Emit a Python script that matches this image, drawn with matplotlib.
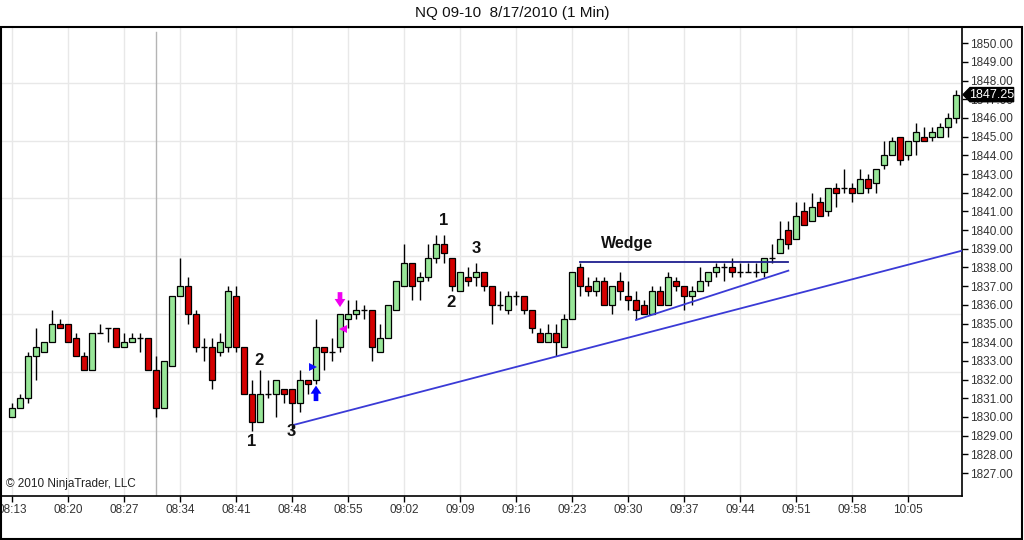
import matplotlib
matplotlib.use("Agg")
import matplotlib.pyplot as plt
from matplotlib.patches import Rectangle, Polygon

plt.rcParams['font.family'] = ['Liberation Sans', 'DejaVu Sans']

#---------------------------------------------------------------------------#
# donnees : barres de 1 minute, NQ 09-10, a partir de 08:13
#---------------------------------------------------------------------------#
opens = [1830.0, 1830.5, 1831.0, 1833.25, 1833.5, 1834.0, 1835.0, 1835.0, 1834.25, 1833.25,
         1832.5, 1834.5, 1834.75, 1834.75, 1833.75, 1834.0, 1834.25, 1834.25, 1832.5, 1830.5,
         1832.75, 1836.5, 1837.0, 1835.5, 1833.75, 1833.75, 1833.5, 1833.75, 1836.5, 1833.75,
         1831.25, 1829.75, 1831.25, 1831.25, 1831.5, 1831.5, 1830.75, 1832.0, 1832.0, 1833.75,
         1833.5, 1833.75, 1835.25, 1835.5, 1835.75, 1835.75, 1833.5, 1834.25, 1835.75, 1837.0,
         1838.25, 1837.25, 1837.5, 1838.5, 1839.25, 1838.5, 1836.75, 1837.5, 1837.5, 1837.75,
         1837.0, 1836.0, 1835.75, 1836.5, 1836.5, 1835.75, 1834.5, 1834.0, 1834.5, 1833.75,
         1835.25, 1838.0, 1837.0, 1836.75, 1837.25, 1836.0, 1837.25, 1836.5, 1836.25, 1836.0,
         1835.5, 1836.75, 1836.0, 1837.25, 1837.0, 1836.5, 1836.75, 1837.25, 1837.75, 1838.0,
         1838.0, 1837.75, 1837.75, 1837.75, 1837.75, 1838.5, 1838.75, 1840.0, 1839.5, 1841.0,
         1840.5, 1841.5, 1841.0, 1842.25, 1842.25, 1842.25, 1842.0, 1842.75, 1842.5, 1843.5,
         1844.0, 1845.0, 1844.0, 1844.75, 1845.0, 1845.0, 1845.0, 1845.5, 1846.0]
highs = [1830.75, 1831.25, 1833.5, 1834.75, 1834.0, 1835.75, 1835.25, 1835.0, 1834.5, 1833.5,
         1834.5, 1835.0, 1834.75, 1834.75, 1834.5, 1834.5, 1834.5, 1834.25, 1833.25, 1833.0,
         1836.5, 1838.5, 1837.5, 1835.75, 1834.25, 1834.25, 1834.5, 1837.0, 1837.0, 1833.75,
         1832.0, 1832.5, 1832.0, 1832.0, 1831.5, 1831.5, 1832.5, 1832.0, 1835.25, 1833.75,
         1834.25, 1835.5, 1836.25, 1836.25, 1836.0, 1835.75, 1835.0, 1836.0, 1837.25, 1839.25,
         1838.25, 1837.75, 1839.25, 1839.75, 1839.75, 1838.5, 1837.75, 1838.0, 1838.25, 1837.75,
         1837.0, 1836.75, 1836.75, 1836.75, 1836.5, 1835.75, 1834.75, 1835.0, 1835.0, 1835.5,
         1837.75, 1838.25, 1837.5, 1837.5, 1837.5, 1837.0, 1837.75, 1837.25, 1836.75, 1836.25,
         1837.0, 1837.0, 1837.75, 1837.5, 1837.0, 1837.0, 1838.0, 1837.75, 1838.25, 1838.25,
         1838.5, 1838.25, 1838.25, 1838.25, 1838.5, 1839.25, 1840.5, 1840.5, 1841.5, 1841.5,
         1842.0, 1841.75, 1842.25, 1842.5, 1843.25, 1842.5, 1843.25, 1843.0, 1843.25, 1844.75,
         1845.0, 1845.0, 1844.75, 1845.75, 1845.5, 1845.5, 1845.75, 1846.25, 1847.5]
lows = [1830.0, 1830.5, 1830.75, 1832.0, 1833.5, 1834.0, 1834.75, 1834.0, 1833.25, 1832.5,
        1832.5, 1834.5, 1834.0, 1833.75, 1833.75, 1834.0, 1833.5, 1832.5, 1830.0, 1830.5,
        1832.75, 1836.5, 1835.0, 1833.5, 1833.0, 1831.5, 1833.25, 1833.5, 1833.5, 1831.25,
        1829.25, 1829.75, 1831.0, 1830.0, 1830.75, 1829.25, 1830.25, 1831.25, 1831.75, 1832.5,
        1833.0, 1833.5, 1834.75, 1835.25, 1835.25, 1833.0, 1833.5, 1834.25, 1835.75, 1837.0,
        1836.25, 1836.25, 1837.25, 1838.25, 1838.25, 1836.75, 1836.75, 1837.0, 1837.0, 1836.75,
        1835.0, 1835.75, 1835.5, 1836.0, 1835.5, 1834.5, 1834.0, 1834.0, 1833.25, 1833.75,
        1835.25, 1836.5, 1836.5, 1836.5, 1836.0, 1835.5, 1836.25, 1835.75, 1835.25, 1835.5,
        1835.5, 1836.0, 1836.0, 1836.75, 1835.75, 1836.0, 1836.75, 1837.0, 1837.5, 1837.25,
        1837.5, 1837.5, 1837.75, 1837.5, 1837.5, 1838.25, 1838.75, 1839.0, 1839.5, 1840.25,
        1840.5, 1840.75, 1840.75, 1841.25, 1842.0, 1841.5, 1842.0, 1842.0, 1842.0, 1843.25,
        1844.0, 1843.5, 1843.75, 1844.0, 1844.75, 1844.75, 1845.0, 1845.0, 1845.75]
closes = [1830.5, 1831.0, 1833.25, 1833.75, 1834.0, 1835.0, 1834.75, 1834.0, 1833.25, 1832.5,
          1834.5, 1834.5, 1834.75, 1833.75, 1834.0, 1834.25, 1834.25, 1832.5, 1830.5, 1833.0,
          1836.5, 1837.0, 1835.5, 1833.75, 1833.75, 1832.0, 1834.0, 1836.75, 1833.75, 1831.25,
          1829.75, 1831.25, 1831.25, 1832.0, 1831.25, 1830.75, 1832.0, 1831.75, 1833.75, 1833.5,
          1833.5, 1835.5, 1835.5, 1835.75, 1835.75, 1833.75, 1834.25, 1836.0, 1837.25, 1838.25,
          1837.0, 1837.5, 1838.5, 1839.25, 1838.75, 1837.0, 1837.75, 1837.25, 1837.75, 1837.0,
          1836.0, 1836.0, 1836.5, 1836.5, 1835.75, 1834.75, 1834.0, 1834.5, 1834.0, 1835.25,
          1837.75, 1837.0, 1836.75, 1837.25, 1836.0, 1837.0, 1836.75, 1836.25, 1835.75, 1835.5,
          1836.75, 1836.0, 1837.5, 1837.0, 1836.5, 1836.75, 1837.25, 1837.75, 1838.0, 1838.0,
          1837.75, 1837.75, 1837.75, 1837.75, 1838.5, 1838.5, 1839.5, 1839.25, 1840.75, 1840.25,
          1841.25, 1840.75, 1842.25, 1842.0, 1842.25, 1842.0, 1842.75, 1842.25, 1843.25, 1844.0,
          1844.75, 1843.75, 1844.75, 1845.25, 1844.75, 1845.25, 1845.5, 1846.0, 1847.25]

time_labels = ["08:13", "08:20", "08:27", "08:34", "08:41", "08:48", "08:55", "09:02", "09:09",
               "09:16", "09:23", "09:30", "09:37", "09:44", "09:51", "09:58", "10:05"]
price_ticks = list(range(1827, 1851))
grid_prices = [1847.86, 1844.77, 1841.70, 1838.61, 1835.51, 1832.39, 1829.26]
session_bar = 18

# lignes tracees (index de barre, prix)
trend_long = [(35.17, 1829.57), (118.75, 1838.90)]
wedge_low = [(78.0, 1835.19), (97.04, 1837.83)]
wedge_top = [(71.0, 1838.30), (97.04, 1838.30)]

# etiquettes : texte, barre, prix
labels = [("1", 29.9, 1828.7), ("2", 30.9, 1833.0), ("3", 34.9, 1829.2),
          ("1", 53.9, 1840.5), ("2", 54.9, 1836.1), ("3", 58.0, 1839.0),
          ("Wedge", 76.9, 1839.3)]

#---------------------------------------------------------------------------#
fig = plt.figure(figsize=(10.24, 5.4), dpi=100)
ax = fig.add_axes([0, 1 - 496 / 540, 962 / 1024, 469 / 540])
ax.set_xlim(-1.5, 118.75)
ax.set_ylim(1825.77, 1850.87)

# grille
xt = [7 * k for k in range(len(time_labels))]
for x in xt:
    ax.axvline(x, color="#e8e8e8", lw=1, zorder=0)
for p in grid_prices:
    ax.axhline(p, color="#e8e8e8", lw=1, zorder=0)
ax.axvline(session_bar, color="#b4b4b4", lw=1, zorder=0.5, ymax=0.99)

# bougies
w = 0.7
n = len(opens)
for i in range(n):
    o, h, l, c = opens[i], highs[i], lows[i], closes[i]
    ax.vlines(i, l, h, color="black", lw=1, zorder=2)
    if c == o:
        ax.hlines(o, i - w / 2, i + w / 2, color="black", lw=1, zorder=3)
    else:
        col = "#98e698" if c > o else "#d40000"
        ax.bar(i, abs(c - o), w, bottom=min(o, c), color=col, edgecolor="black",
               linewidth=0.9, zorder=3)

# lignes de tendance
for pts, col in [(trend_long, "#3a3ad6"), (wedge_low, "#3a3ad6"), (wedge_top, "#1f1f8f")]:
    ax.plot([pts[0][0], pts[1][0]], [pts[0][1], pts[1][1]], color=col, lw=1.3, zorder=4)

for txt, bx, py in labels:
    ax.text(bx, py, txt, fontsize=11.5 if txt == "Wedge" else 12, fontweight="bold",
            ha="center", va="center", color="#111111", zorder=6)

# fleches
style = "simple,head_length=0.45,head_width=0.6,tail_width=0.26"
ax.annotate("", xy=(38, 1831.68), xytext=(38, 1830.85),
            arrowprops=dict(arrowstyle=style, color="#0000ff", lw=0, mutation_scale=13,
                            shrinkA=0, shrinkB=0), zorder=6)
ax.annotate("", xy=(41, 1835.88), xytext=(41, 1836.68),
            arrowprops=dict(arrowstyle=style, color="#f000f0", lw=0, mutation_scale=13,
                            shrinkA=0, shrinkB=0), zorder=6)
ax.plot(37.67, 1832.65, marker=">", color="#1010ff", ms=6, mew=0, zorder=6)
ax.plot(41.35, 1834.7, marker="<", color="#f000f0", ms=6, mew=0, zorder=6)

# axes
for s in ["left", "top"]:
    ax.spines[s].set_visible(False)
ax.spines["right"].set_linewidth(1.2)
ax.spines["bottom"].set_linewidth(1.2)
ax.yaxis.tick_right()
ax.set_yticks(price_ticks)
ax.set_yticklabels([f"{p:.2f}" for p in price_ticks])
ax.tick_params(axis="y", length=4.5, width=1, pad=1, labelsize=8.5, labelcolor="#333333")
ax.set_xticks(xt)
ax.set_xticklabels(time_labels)
ax.tick_params(axis="x", length=4, width=1, pad=1.5, labelsize=8.5, labelcolor="#333333")

# prix courant
last = closes[-1]
box = Polygon([(118.875, last), (119.75, last + 0.38), (125.2, last + 0.38),
               (125.2, last - 0.38), (119.75, last - 0.38)],
              closed=True, fc="black", ec="black", clip_on=False, zorder=7)
ax.add_patch(box)
ax.text(122.5, last, f"{last:.2f}", color="white", fontsize=9, ha="center", va="center",
        clip_on=False, zorder=8)

ax.text(6 / 962, 6 / 469, "\u00a9 2010 NinjaTrader, LLC", transform=ax.transAxes,
        fontsize=8.5, color="#222222", ha="left", va="bottom")

fig.text(0.5, 1 - 13 / 540, "NQ 09-10  8/17/2010 (1 Min)", ha="center", va="center",
         fontsize=11, color="#111111")
fig.add_artist(Rectangle((0.6 / 1024, 1 - 539 / 540), 1021 / 1024, 512 / 540, fill=False,
                         ec="black", lw=1.5, transform=fig.transFigure))

plt.savefig("out.png", dpi=100)
